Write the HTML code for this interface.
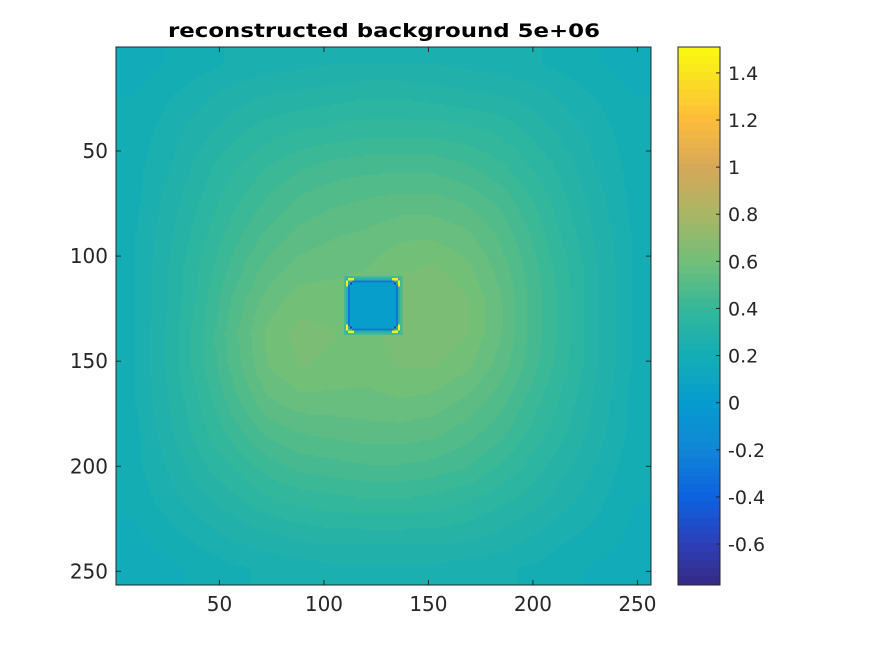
<!DOCTYPE html>
<html><head><meta charset="utf-8">
<style>
body{margin:0;background:#fff;width:875px;height:656px;overflow:hidden;position:relative;font-family:"DejaVu Sans","Liberation Sans",sans-serif}
canvas{position:absolute;image-rendering:pixelated}
svg{position:absolute;left:0;top:0}
</style></head><body>
<canvas id="img" width="256" height="256" style="left:116px;top:47px;width:535px;height:538px"></canvas>
<canvas id="cb" width="1" height="64" style="left:678px;top:47px;width:42px;height:538px;image-rendering:pixelated"></canvas>
<svg id="svg" width="875" height="656"></svg>
<script>
// Coarse field grid (16x16), each sample centred on 16-pixel blocks of the 256x256 image
const gridValues = [
[.17,.19,.21,.23,.24,.25,.26,.26,.26,.26,.25,.24,.23,.21,.19,.17],
[.19,.22,.25,.28,.30,.31,.32,.33,.33,.32,.31,.30,.28,.25,.22,.19],
[.20,.24,.28,.32,.35,.37,.38,.39,.39,.39,.38,.36,.32,.28,.24,.20],
[.21,.25,.31,.36,.40,.43,.45,.46,.46,.46,.44,.41,.36,.31,.25,.21],
[.21,.27,.33,.39,.44,.48,.50,.51,.52,.52,.50,.46,.40,.33,.27,.21],
[.22,.28,.35,.42,.48,.52,.54,.55,.57,.57,.55,.50,.43,.35,.28,.22],
[.22,.29,.37,.45,.52,.56,.57,.58,.61,.62,.59,.53,.45,.37,.29,.22],
[.22,.29,.38,.48,.56,.60,.60,.60,.64,.65,.62,.55,.46,.38,.29,.22],
[.22,.30,.39,.50,.59,.63,.62,.60,.64,.65,.62,.55,.46,.38,.29,.22],
[.22,.30,.39,.49,.58,.62,.61,.60,.62,.62,.59,.53,.45,.37,.29,.22],
[.22,.29,.37,.46,.54,.57,.57,.57,.58,.57,.54,.49,.42,.35,.28,.21],
[.21,.28,.35,.42,.48,.51,.52,.53,.53,.52,.49,.45,.39,.33,.27,.21],
[.21,.26,.32,.37,.42,.45,.46,.47,.47,.46,.44,.40,.35,.30,.25,.20],
[.20,.24,.28,.32,.36,.38,.39,.40,.40,.39,.37,.34,.31,.27,.23,.19],
[.18,.21,.24,.27,.29,.31,.32,.32,.32,.32,.31,.29,.26,.23,.21,.18],
[.16,.18,.20,.22,.23,.24,.25,.25,.25,.25,.24,.23,.22,.20,.18,.16]];
// Central square feature (1-based image indices) and its values
const squareBounds = [112, 135];
const squareValues = {inner: 0.03, border: -0.28, halo: 0.3};
const cornerValues = [1.45, -0.7];
const xTicks = [50,100,150,200,250];
const yTicks = [50,100,150,200,250];
const cbTicks = [-0.6,-0.4,-0.2,0,0.2,0.4,0.6,0.8,1,1.2,1.4];
const clim = [-0.774, 1.51];
const titleText = "reconstructed background 5e+06";

const stops=[[-0.774,[53,42,135]],[-0.6,[45,63,184]],[-0.4,[13,98,224]],[-0.2,[17,134,214]],[0,[6,156,207]],[0.2,[20,173,181]],[0.4,[52,183,154]],[0.6,[114,191,120]],[0.8,[170,181,101]],[1.0,[214,168,90]],[1.2,[253,188,60]],[1.51,[249,251,14]]];
function cmap(v){
  let f=(v-clim[0])/(clim[1]-clim[0]); f=Math.max(0,Math.min(0.9999,f));
  const q=(Math.floor(f*64)+0.5)/64; const val=clim[0]+q*(clim[1]-clim[0]);
  for(let i=0;i<stops.length-1;i++){const a=stops[i],b=stops[i+1];
    if(val<=b[0]){const t=(val-a[0])/(b[0]-a[0]);return a[1].map((c,k)=>Math.round(c+(b[1][k]-c)*t));}}
  return stops[stops.length-1][1];
}
function fieldAt(r,c){
  let gy=(r+0.5)/16-0.5, gx=(c+0.5)/16-0.5;
  gy=Math.max(0,Math.min(15,gy)); gx=Math.max(0,Math.min(15,gx));
  const y0=Math.min(14,Math.floor(gy)),x0=Math.min(14,Math.floor(gx)),ty=gy-y0,tx=gx-x0;
  const g=gridValues;
  return g[y0][x0]*(1-ty)*(1-tx)+g[y0][x0+1]*(1-ty)*tx+g[y0+1][x0]*ty*(1-tx)+g[y0+1][x0+1]*ty*tx;
}
const ctx=document.getElementById('img').getContext('2d');
const im=ctx.createImageData(256,256);
const [s0,s1]=squareBounds;
for(let r=1;r<=256;r++)for(let c=1;c<=256;c++){
  let v=fieldAt(r-1,c-1);
  const dr=Math.max(s0-r,r-s1,0), dc=Math.max(s0-c,c-s1,0);
  const inside=r>=s0&&r<=s1&&c>=s0&&c<=s1;
  const cr=Math.min(r-s0,s1-r), cc=Math.min(c-s0,s1-c);
  if(inside){
    if(cr+cc<2){v=squareValues.halo;}
    else if(cr+cc===2&&cr>0&&cc>0){v=cornerValues[1];}
    else if(cr===0||cc===0){v=squareValues.border;}
    else v=squareValues.inner;
  } else if(Math.max(dr,dc)<=2){
    const d=Math.max(dr,dc);
    if(d===1&&((cr===-1&&cc>=0&&cc<=2)||(cc===-1&&cr>=0&&cr<=2))) v=cornerValues[0];
    else v=d===1?squareValues.halo:(v+squareValues.halo)/2;
  }
  const col=cmap(v),i=((r-1)*256+(c-1))*4;
  im.data[i]=col[0];im.data[i+1]=col[1];im.data[i+2]=col[2];im.data[i+3]=255;
}
ctx.putImageData(im,0,0);
const cb=document.getElementById('cb').getContext('2d');
for(let k=0;k<64;k++){const v=clim[0]+(k+0.5)/64*(clim[1]-clim[0]);const c=cmap(v);cb.fillStyle=`rgb(${c})`;cb.fillRect(0,63-k,1,1);}

const svg=document.getElementById('svg'),NS='http://www.w3.org/2000/svg';
function mk(t,a,p){const e=document.createElementNS(NS,t);for(const k in a)e.setAttribute(k,a[k]);(p||svg).appendChild(e);return e;}
const L=116,R=651,T=47,B=585;
const xs=v=>L+(v-0.5)*(R-L)/256, ys=v=>T+(v-0.5)*(B-T)/256;
const cbY=v=>B-(v-clim[0])/(clim[1]-clim[0])*(B-T);
let e=mk('rect',{x:L,y:T,width:R-L,height:B-T,fill:'none',stroke:'#262626','stroke-width':1});

xTicks.forEach(v=>{const x=xs(v);
  mk('line',{x1:x,x2:x,y1:B,y2:B-5,stroke:'#262626'});mk('line',{x1:x,x2:x,y1:T,y2:T+5,stroke:'#262626'});
  const t=mk('text',{x:x,y:B+26,'text-anchor':'middle','font-size':20,fill:'#262626'});t.textContent=v;
  });
yTicks.forEach(v=>{const y=ys(v);
  mk('line',{x1:L,x2:L+5,y1:y,y2:y,stroke:'#262626'});mk('line',{x1:R,x2:R-5,y1:y,y2:y,stroke:'#262626'});
  const t=mk('text',{x:L-8,y:y+7,'text-anchor':'end','font-size':20,fill:'#262626'});t.textContent=v;
  });
e=mk('rect',{x:678,y:T,width:42,height:B-T,fill:'none',stroke:'#262626','stroke-width':1});

cbTicks.forEach(v=>{const y=cbY(v);
  mk('line',{x1:720,x2:716,y1:y,y2:y,stroke:'#262626'});
  const t=mk('text',{x:728,y:y+7,'font-size':19,fill:'#262626'});t.textContent=v;
  });
const tt=mk('text',{x:384,y:37,'text-anchor':'middle','font-size':19,'font-weight':'bold',fill:'#000',textLength:432,lengthAdjust:'spacingAndGlyphs'});tt.textContent=titleText;

</script>
</body></html>
